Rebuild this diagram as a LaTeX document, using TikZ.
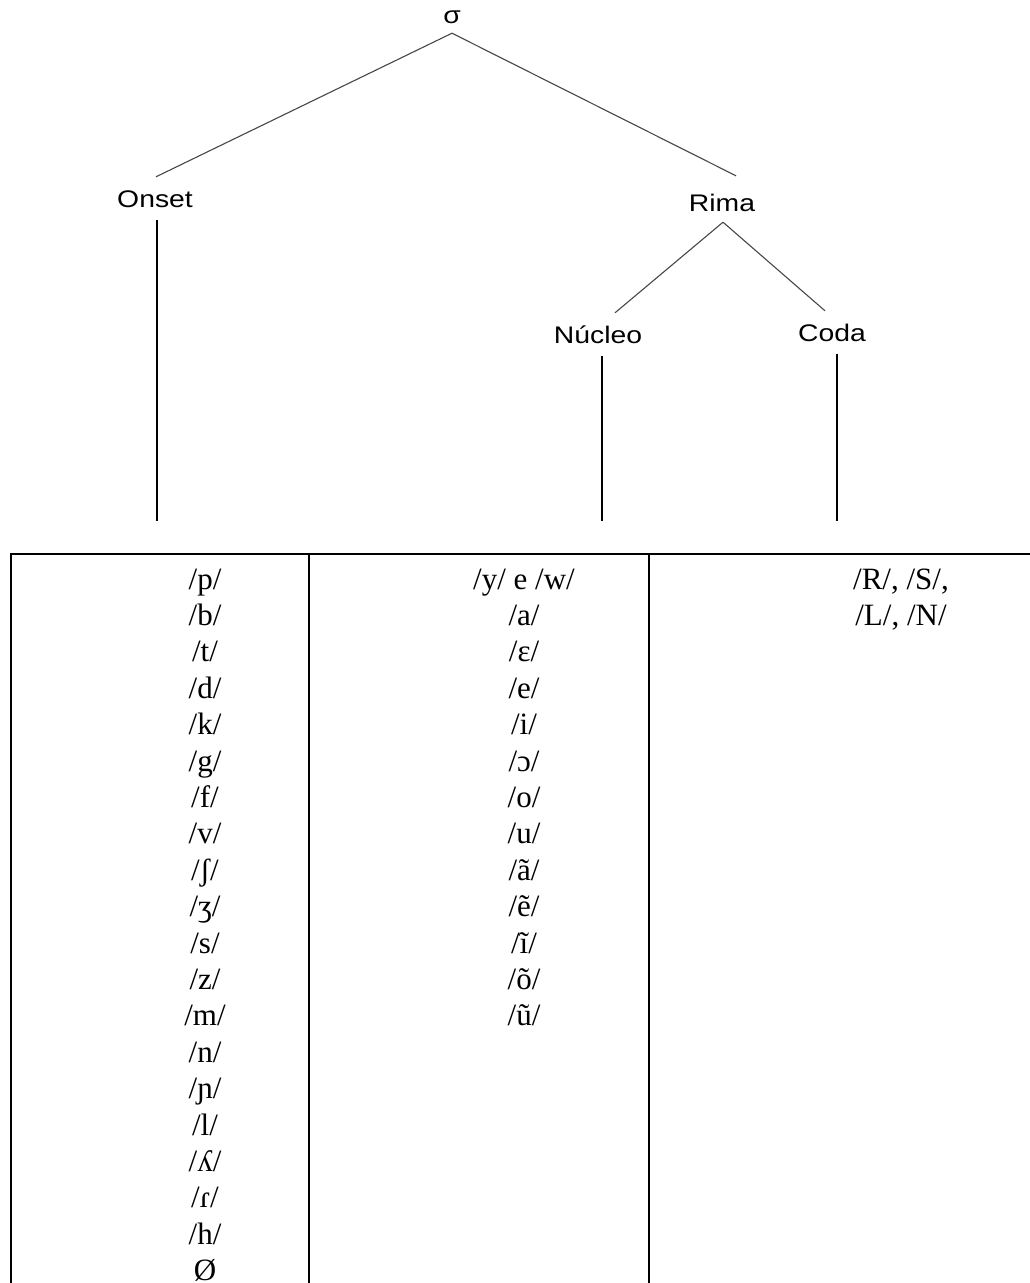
\documentclass[tikz,border=0pt]{standalone}
\usepackage{fontspec}
\usepackage{graphicx}
\setmainfont{Liberation Serif}
\newfontfamily\labelfont{Liberation Sans}
\newcommand\widetxt[1]{\scalebox{1.18}[1]{#1}}
\begin{document}
\begin{tikzpicture}[x=1pt,y=-1pt,
  tlabel/.style={anchor=base, inner xsep=0pt, inner ysep=13pt, text height=17pt, text depth=0pt,
                 font=\labelfont\fontsize{24}{24}\selectfont},
  branch/.style={draw=black!72, line width=1.1pt},
  stem/.style={draw=black, line width=1.2pt},
  gridline/.style={draw=black, line width=2.4pt},
  cell/.style={anchor=base, inner sep=0pt, font=\fontsize{31}{36}\selectfont}]
\useasboundingbox[fill=white] (0,0) rectangle (1030,1283);

% tree labels
\node[tlabel, inner ysep=10pt] (sigma) at (452,23) {\widetxt{σ}};
\node[tlabel] (onset)  at (155,207) {\widetxt{Onset}};
\node[tlabel] (rima)   at (722,211) {\widetxt{Rima}};
\node[tlabel] (nucleo) at (598,343) {\widetxt{Núcleo}};
\node[tlabel] (coda)   at (832,341) {\widetxt{Coda}};

% branches
\draw[branch] (sigma.south) -- ([xshift=1pt]onset.north);
\draw[branch] (sigma.south) -- ([xshift=14pt,yshift=5pt]rima.north);
\draw[branch] ([xshift=1pt,yshift=2pt]rima.south) -- ([xshift=17pt]nucleo.north);
\draw[branch] ([xshift=1pt,yshift=2pt]rima.south) -- ([xshift=-7pt]coda.north);

% stems
\coordinate (onsetEnd)  at (157,521);
\coordinate (nucleoEnd) at (602,521);
\coordinate (codaEnd)   at (837,521);
\draw[stem] (onset.south -| onsetEnd) -- (onsetEnd);
\draw[stem] (nucleo.south -| nucleoEnd) -- (nucleoEnd);
\draw[stem] (coda.south -| codaEnd) -- (codaEnd);

% table
\draw[gridline] (11,1295) -- (11,554) -- (1040,554);
\draw[gridline] (309,554) -- (309,1295);
\draw[gridline] (649,554) -- (649,1295);

% onset column
\foreach \t [count=\i from 0] in {/p/,/b/,/t/,/d/,/k/,/g/,/f/,/v/,/ʃ/,/ʒ/,/s/,/z/,/m/,/n/,/ɲ/,/l/,/ʎ/,/ɾ/,/h/,Ø}
  \node[cell] (on\i) at (205,{589+36.4*\i}) {\t};

% nucleus column
\foreach \t [count=\i from 0] in {/y/ e /w/,/a/,/ɛ/,/e/,/i/,/ɔ/,/o/,/u/,/ã/,/ẽ/,/ĩ/,/õ/,/ũ/}
  \node[cell] (nu\i) at (524,{589+36.4*\i}) {\t};

% coda column
\node[cell] (co0) at (901,589) {/R/, /S/,};
\node[cell] (co1) at (901,625.4) {/L/, /N/};
\end{tikzpicture}
\end{document}
